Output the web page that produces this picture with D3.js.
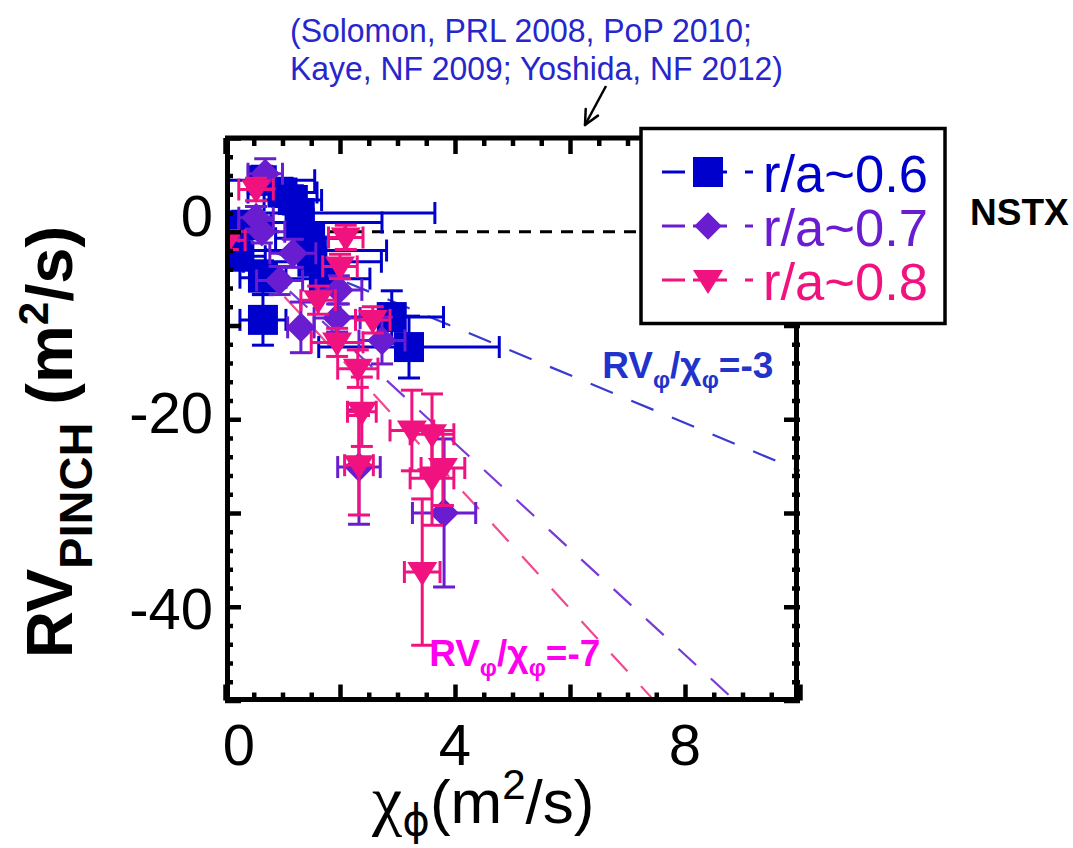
<!DOCTYPE html>
<html><head><meta charset="utf-8">
<script src="https://cdn.jsdelivr.net/npm/d3@7"></script>
<style>body{margin:0;background:#fff}svg{display:block}</style>
</head><body>
<svg id="c" width="1073" height="848"></svg>
<script>
// ---------- data ----------
const xDomain = [0, 10];
const yDomain = [-50, 10];
const xTickLabels = [0, 4, 8];
const yTickLabels = [0, -20, -40];
const seriesNames = ["r/a~0.6", "r/a~0.7", "r/a~0.8"];
const seriesColors = ["#0000cc", "#6a1cd0", "#f0137f"];
// [x, y, xErr, yErr]
const blueSquares = [
  [0.64, 5.5, 0.92, 1.5],
  [1.00, 4.2, 0.60, 1.5],
  [1.18, 3.4, 0.50, 1.5],
  [1.30, 2.0, 2.35, 1.2],
  [1.30, 1.0, 1.43, 1.2],
  [0.30, 0.7, 0.50, 1.5],
  [0.25, -2.6, 0.45, 1.5],
  [1.48, -0.7, 0.60, 1.5],
  [1.51, -2.0, 1.30, 1.3],
  [1.52, -3.2, 1.20, 1.3],
  [1.72, -5.0, 0.80, 1.5],
  [0.66, -4.9, 0.40, 1.8],
  [0.66, -9.4, 0.40, 2.7],
  [2.90, -9.1, 0.90, 2.8],
  [3.20, -12.3, 1.57, 3.3]
];
const purpleDiamonds = [
  [0.70, 6.2, 0.30, 1.6],
  [0.54, 1.5, 0.30, 1.2],
  [0.64, 0.0, 0.40, 1.2],
  [1.18, -2.3, 0.40, 1.5],
  [0.95, -5.2, 0.40, 1.5],
  [1.32, -10.2, 0.23, 2.7],
  [1.98, -6.2, 0.40, 1.5],
  [1.95, -9.2, 0.40, 1.5],
  [2.73, -11.6, 0.40, 2.5],
  [2.33, -25.1, 0.37, 6.1],
  [3.81, -30.0, 0.55, 7.9]
];
const pinkTriangles = [
  [0.54, 4.5, 0.30, 1.2],
  [0.05, -0.9, 0.30, 1.0],
  [2.10, -0.6, 0.30, 1.3],
  [2.00, -3.7, 0.30, 1.3],
  [1.62, -7.3, 0.30, 1.5],
  [2.57, -9.4, 0.30, 1.4],
  [1.95, -11.8, 0.45, 1.5],
  [2.31, -14.6, 0.35, 2.0],
  [2.38, -19.2, 0.25, 3.7],
  [2.33, -24.9, 0.25, 5.3],
  [3.25, -21.2, 0.38, 4.3],
  [3.60, -21.6, 0.38, 4.3],
  [3.79, -25.2, 0.38, 4.0],
  [3.60, -26.3, 0.38, 5.0],
  [3.43, -36.3, 0.31, 7.8]
];
const refSlopes = [-2.55, -5.64, -6.7];
const refColors = ["#3a3ad0", "#7a3ad8", "#f04a90"];
const refLabelValues = ["-3", "-7"];
const citation = ["(Solomon, PRL 2008, PoP 2010;", "Kaye, NF 2009; Yoshida, NF 2012)"];

// ---------- drawing ----------
const svg = d3.select("#c");
const FONT = "'Liberation Sans', Arial, sans-serif";
const x = d3.scaleLinear().domain(xDomain).range([225, 800]);
const y = d3.scaleLinear().domain(yDomain).range([700.5, 138]);
// tick-label centres sit slightly off the ticks in the original figure
const yLab = d3.scaleLinear().domain([0, -40]).range([215, 608]);

svg.append("defs").append("clipPath").attr("id", "clip")
  .append("rect").attr("x", x(0)).attr("y", y(10))
  .attr("width", x(10) - x(0)).attr("height", y(-50) - y(10));

const plot = svg.append("g").attr("clip-path", "url(#clip)");

// zero dashed line
plot.append("line")
  .attr("x1", x(0)).attr("x2", x(10)).attr("y1", y(0)).attr("y2", y(0))
  .attr("stroke", "#000").attr("stroke-width", 3).attr("stroke-dasharray", "12 9");

// reference lines
refSlopes.forEach((s, i) => {
  plot.append("line")
    .attr("x1", x(0)).attr("y1", y(0)).attr("x2", x(10)).attr("y2", y(s * 10))
    .attr("stroke", refColors[i]).attr("stroke-width", 2.2)
    .attr("stroke-dasharray", "24 20");
});

// symbols
const triangleDown = {
  draw(ctx, size) {
    const k = Math.sqrt(size) / 30;
    ctx.moveTo(-15 * k, -10 * k);
    ctx.lineTo(15 * k, -10 * k);
    ctx.lineTo(0, 14 * k);
    ctx.closePath();
  }
};
const symbolDefs = [
  { type: d3.symbolSquare, size: 900, rot: 0 },
  { type: d3.symbolSquare, size: 440, rot: 45 },
  { type: triangleDown, size: 900, rot: 0 }
];
const allSeries = [blueSquares, purpleDiamonds, pinkTriangles];
const CAP = 11;

allSeries.forEach((data, si) => {
  const col = seriesColors[si];
  const g = plot.append("g");
  const eb = g.append("g").attr("stroke", col).attr("stroke-width", 3).attr("fill", "none");
  data.forEach(d => {
    const cx = x(d[0]), cy = y(d[1]);
    const x0 = x(d[0] - d[2]), x1 = x(d[0] + d[2]);
    const y0 = y(d[1] + d[3]), y1 = y(d[1] - d[3]);
    eb.append("line").attr("x1", x0).attr("x2", x1).attr("y1", cy).attr("y2", cy);
    eb.append("line").attr("x1", x0).attr("x2", x0).attr("y1", cy - CAP).attr("y2", cy + CAP);
    eb.append("line").attr("x1", x1).attr("x2", x1).attr("y1", cy - CAP).attr("y2", cy + CAP);
    eb.append("line").attr("x1", cx).attr("x2", cx).attr("y1", y0).attr("y2", y1);
    eb.append("line").attr("x1", cx - CAP).attr("x2", cx + CAP).attr("y1", y0).attr("y2", y0);
    eb.append("line").attr("x1", cx - CAP).attr("x2", cx + CAP).attr("y1", y1).attr("y2", y1);
  });
  const sd = symbolDefs[si];
  g.selectAll("path.m").data(data).join("path").attr("class", "m")
    .attr("d", d3.symbol().type(sd.type).size(sd.size))
    .attr("transform", d => `translate(${x(d[0])},${y(d[1])}) rotate(${sd.rot})`)
    .attr("fill", col);
});

// axes ticks (inward, all four sides)
const xMajor = d3.range(0, 10.01, 2), xMinor = d3.range(0, 10.01, 0.5).filter(v => v % 2 !== 0);
const yMajor = d3.range(-50, 10.01, 10), yMinor = d3.range(-50, 10.01, 2).filter(v => v % 10 !== 0);
const axG = svg.append("g");
function addAxis(axisFn, scale, vals, len, tx, ty) {
  const a = axisFn(scale).tickValues(vals).tickSize(-len).tickFormat("");
  const gg = axG.append("g").attr("transform", `translate(${tx},${ty})`).call(a);
  gg.select(".domain").remove();
  gg.selectAll("line").attr("stroke", "#000").attr("stroke-width", 4.5);
}
addAxis(d3.axisBottom, x, xMajor, 16, 0, y(-50));
addAxis(d3.axisBottom, x, xMinor, 8, 0, y(-50));
addAxis(d3.axisTop, x, xMajor, 16, 0, y(10));
addAxis(d3.axisTop, x, xMinor, 8, 0, y(10));
addAxis(d3.axisLeft, y, yMajor, 16, x(0), 0);
addAxis(d3.axisLeft, y, yMinor, 8, x(0), 0);
addAxis(d3.axisRight, y, yMajor, 16, x(10), 0);
addAxis(d3.axisRight, y, yMinor, 8, x(10), 0);

// frame
svg.append("rect").attr("x", x(0) + 2.5).attr("y", y(10))
  .attr("width", x(10) - x(0) - 6).attr("height", y(-50) - y(10) - 1)
  .attr("fill", "none").attr("stroke", "#000").attr("stroke-width", 5);

// tick labels
svg.append("g").selectAll("text").data(xTickLabels).join("text")
  .attr("x", d => x(d) + (d === 0 ? 14 : 0)).attr("y", 765)
  .attr("text-anchor", "middle").attr("font-family", FONT).attr("font-size", 58)
  .attr("fill", "#000").text(d => d);
svg.append("g").selectAll("text").data(yTickLabels).join("text")
  .attr("x", 213).attr("y", d => yLab(d) + 21)
  .attr("text-anchor", "end").attr("font-family", FONT).attr("font-size", 58)
  .attr("fill", "#000").text(d => d);

// axis titles
const xt = svg.append("text").attr("x", 372).attr("y", 823)
  .attr("font-family", FONT).attr("font-size", 62).attr("fill", "#000");
xt.append("tspan").attr("font-family", "'Liberation Serif', serif").attr("font-size", 68).text("χ");
xt.append("tspan").attr("font-size", 42).attr("dy", 12).attr("font-family", "'DejaVu Sans', sans-serif").text("ϕ");
xt.append("tspan").attr("dy", -12).text("(m");
xt.append("tspan").attr("font-size", 42).attr("dy", -24).text("2");
xt.append("tspan").attr("dy", 24).text("/s)");

const yt = svg.append("text")
  .attr("transform", "translate(72,442) rotate(-90)")
  .attr("text-anchor", "middle").attr("font-family", FONT).attr("font-weight", "bold")
  .attr("font-size", 65).attr("fill", "#000");
yt.append("tspan").text("RV");
yt.append("tspan").attr("font-size", 47).attr("dy", 20).text("PINCH");
yt.append("tspan").attr("dy", -20).text(" (m");
yt.append("tspan").attr("font-size", 42).attr("dy", -24).text("2");
yt.append("tspan").attr("dy", 24).text("/s)");

// reference line labels
function refLabel(xv, yv, val, color) {
  const t = svg.append("text").attr("x", x(xv)).attr("y", y(yv))
    .attr("font-family", FONT).attr("font-weight", "bold").attr("font-size", 37).attr("fill", color);
  t.append("tspan").text("RV");
  t.append("tspan").attr("font-size", 24).attr("dy", 10).text("φ");
  t.append("tspan").attr("dy", -10).text("/χ");
  t.append("tspan").attr("font-size", 24).attr("dy", 10).text("φ");
  t.append("tspan").attr("dy", -10).text("=" + val);
}
refLabel(6.56, -15.6, refLabelValues[0], "#2233cc");
refLabel(3.55, -46.3, refLabelValues[1], "#ff00ee");

// legend
const lg = svg.append("g");
lg.append("rect").attr("x", 641).attr("y", 128.5).attr("width", 304).attr("height", 195)
  .attr("fill", "#fff").attr("stroke", "#000").attr("stroke-width", 3.5);
const rowY = [172, 226, 280];
seriesNames.forEach((name, i) => {
  const col = seriesColors[i], ry = rowY[i];
  [[662, 685], [693, 727], [745, 753]].forEach(s =>
    lg.append("line").attr("x1", s[0]).attr("x2", s[1]).attr("y1", ry).attr("y2", ry)
      .attr("stroke", col).attr("stroke-width", 3));
  const sd = symbolDefs[i];
  lg.append("path").attr("d", d3.symbol().type(sd.type).size(i === 1 ? 380 : sd.size))
    .attr("transform", `translate(708,${ry}) rotate(${sd.rot})`).attr("fill", col);
  lg.append("text").attr("x", 763).attr("y", ry + 20).attr("font-family", FONT)
    .attr("font-size", 51).attr("fill", col).attr("textLength", 165)
    .attr("lengthAdjust", "spacingAndGlyphs").text(name);
});

svg.append("text").attr("x", 970).attr("y", 225).attr("font-family", FONT)
  .attr("font-weight", "bold").attr("font-size", 37).attr("fill", "#000").text("NSTX");

// citation
citation.forEach((line, i) => {
  svg.append("text").attr("x", 290).attr("y", 42 + i * 38).attr("font-family", FONT)
    .attr("font-size", 33).attr("fill", "#2626cc")
    .attr("textLength", i === 0 ? 462 : 493).attr("lengthAdjust", "spacingAndGlyphs").text(line);
});

// arrow
const ax0 = 606, ay0 = 86, ax1 = 585, ay1 = 125;
svg.append("line").attr("x1", ax0).attr("y1", ay0).attr("x2", ax1).attr("y2", ay1)
  .attr("stroke", "#000").attr("stroke-width", 2.5);
const ang = Math.atan2(ay0 - ay1, ax0 - ax1);
const ah = 16;
[ang - 0.45, ang + 0.45].forEach(a => {
  svg.append("line").attr("x1", ax1).attr("y1", ay1)
    .attr("x2", ax1 + ah * Math.cos(a)).attr("y2", ay1 + ah * Math.sin(a))
    .attr("stroke", "#000").attr("stroke-width", 2.5).attr("stroke-linecap", "round");
});
</script>
</body></html>
